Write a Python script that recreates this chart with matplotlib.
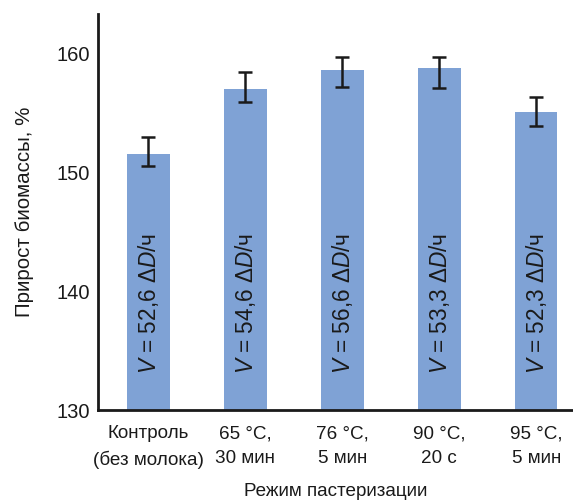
import matplotlib
matplotlib.use('Agg')
import matplotlib.pyplot as plt

plt.rcParams['font.family'] = ['Liberation Sans', 'DejaVu Sans']
plt.rcParams['mathtext.fontset'] = 'custom'
plt.rcParams['mathtext.it'] = 'Liberation Sans:italic'
plt.rcParams['mathtext.rm'] = 'Liberation Sans'

categories = ['Контроль\n(без молока)', '65 °C,\n30 мин', '76 °C,\n5 мин', '90 °C,\n20 с', '95 °C,\n5 мин']
growth = [151.5, 157.0, 158.6, 158.8, 155.1]
err_low = [1.0, 1.1, 1.45, 1.7, 1.25]
err_high = [1.45, 1.45, 1.1, 0.85, 1.2]
rates = ['52,6', '54,6', '56,6', '53,3', '52,3']

BAR_COLOR = '#7fa2d5'
TEXT_COLOR = '#1a1a1a'


def main():
    fig = plt.figure(figsize=(5.73, 5.0), dpi=100)
    ax = fig.add_axes([0.171, 0.18, 0.829, 0.792])

    x = list(range(len(categories)))
    ax.bar(x, [g - 130 for g in growth], bottom=130, width=0.44, color=BAR_COLOR,
           yerr=[err_low, err_high], capsize=5,
           error_kw=dict(ecolor=TEXT_COLOR, elinewidth=1.8, capthick=1.8))

    for xi, r in zip(x, rates):
        ax.text(xi, 133.0, f'$V$ = {r} $\\mathit{{\\Delta D}}$/ч', rotation=90,
                ha='center', va='bottom', fontsize=16.3, color=TEXT_COLOR)

    ax.set_ylim(130, 163.3)
    ax.set_xlim(-0.52, 4.38)
    ax.set_yticks([130, 140, 150, 160])
    ax.set_xticks(x)
    ax.set_xticklabels(categories, fontsize=13.6, color=TEXT_COLOR, linespacing=1.6)
    ax.tick_params(axis='y', labelsize=14.5, labelcolor=TEXT_COLOR, length=0, pad=6)
    ax.tick_params(axis='x', length=0, pad=11)

    for s in ['top', 'right']:
        ax.spines[s].set_visible(False)
    for s in ['left', 'bottom']:
        ax.spines[s].set_linewidth(2)
        ax.spines[s].set_color(TEXT_COLOR)

    ax.set_ylabel('Прирост биомассы, %', fontsize=14.8, color=TEXT_COLOR, labelpad=16)
    ax.set_xlabel('Режим пастеризации', fontsize=13.6, color=TEXT_COLOR, labelpad=10)

    fig.savefig('out.png', dpi=100)


if __name__ == '__main__':
    main()
